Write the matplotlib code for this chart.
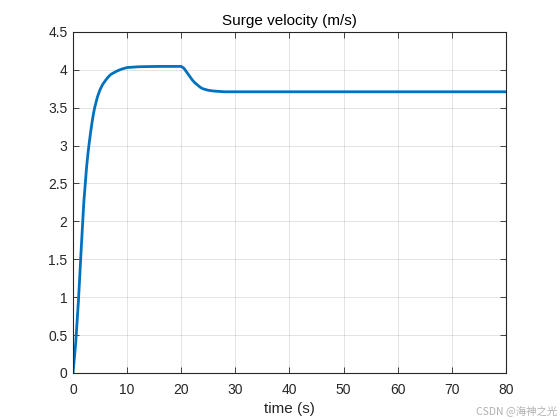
import matplotlib
matplotlib.use("Agg")
import matplotlib.pyplot as plt

plt.rcParams['font.family'] = ['Liberation Sans', 'DejaVu Sans']

t = [0, 0.5, 1, 1.5, 2, 2.5, 2.75, 3, 3.25, 3.5, 3.75, 4, 4.5, 5, 5.5, 6, 6.5, 7, 7.5, 8, 9, 10, 12, 14, 16, 18, 20,
     20.5, 21, 21.5, 22, 22.5, 23, 23.5, 24, 24.5, 25, 26, 27, 28, 30, 40, 50, 60, 70, 80]
v = [0, 0.40, 0.95, 1.62, 2.26, 2.71, 2.89, 3.04, 3.175, 3.30, 3.41, 3.50, 3.64, 3.74, 3.81, 3.86, 3.905, 3.94, 3.96, 3.98, 4.01, 4.03, 4.04, 4.043, 4.045, 4.045, 4.045,
     4.02, 3.97, 3.92, 3.87, 3.83, 3.80, 3.77, 3.75, 3.74, 3.73, 3.72, 3.715, 3.71, 3.71, 3.71, 3.71, 3.71, 3.71, 3.71]

xticks = [0, 10, 20, 30, 40, 50, 60, 70, 80]
yticks = [0, 0.5, 1, 1.5, 2, 2.5, 3, 3.5, 4, 4.5]
ytick_labels = ["0", "0.5", "1", "1.5", "2", "2.5", "3", "3.5", "4", "4.5"]

fig = plt.figure(figsize=(5.6, 4.2), dpi=100)
ax = fig.add_axes([0.1304, 0.112, 0.773, 0.812])
ax.plot(t, v, color='#0072BD', lw=2)
ax.set_xlim(0, 80)
ax.set_ylim(0, 4.5)
ax.set_xticks(xticks)
ax.set_xticklabels([str(x) for x in xticks])
ax.set_yticks(yticks)
ax.set_yticklabels(ytick_labels)
ax.grid(True, color='#262626', alpha=0.15, lw=0.6)
ax.tick_params(direction='in', top=True, right=True, labelsize=10, colors='#262626', length=4, width=0.6)
ax.tick_params(axis='x', pad=7)
ax.tick_params(axis='y', pad=4)
for s in ax.spines.values():
    s.set_color('#262626')
    s.set_linewidth(0.8)
ax.set_title("Surge velocity (m/s)", fontsize=11, color='black', pad=5)
ax.set_xlabel("time (s)", fontsize=11, color='#262626', labelpad=4)
fig.text(0.995, 0.01, "CSDN @海神之光", ha='right', va='bottom', fontsize=7.5, color='#b0b0b0',
         family=['Noto Sans CJK SC', 'DejaVu Sans'])
fig.savefig("out.png", dpi=100)
